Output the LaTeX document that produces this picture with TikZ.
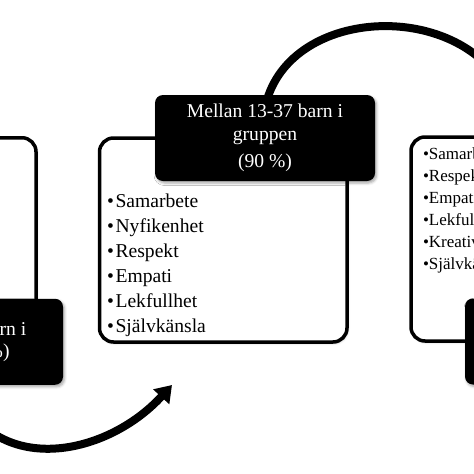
\documentclass[tikz,border=0pt]{standalone}
\usepackage{fontspec}
\setmainfont{Liberation Serif}
\usetikzlibrary{arrows.meta,shadows.blur}
\pgfdeclarelayer{bg}
\pgfsetlayers{bg,main}
\begin{document}
\begin{tikzpicture}[x=1pt,y=-1pt,
  whitebox/.style={draw=black, line width=3.5pt, fill=white, rounded corners=14pt,
    minimum width=247.5pt, minimum height=204pt, inner sep=0pt,
    blur shadow={shadow xshift=1pt, shadow yshift=-1.5pt, shadow blur radius=2pt, shadow opacity=25}},
  blackbox/.style={fill=black, text=white, rounded corners=8pt,
    minimum width=220pt, minimum height=86pt, inner sep=0pt, align=center,
    font=\fontsize{19.6}{22.5}\selectfont,
    blur shadow={shadow xshift=1.5pt, shadow yshift=-2pt, shadow blur radius=2.5pt, shadow opacity=35}},
  listitem/.style={anchor=base west, inner sep=0pt, font=\fontsize{19.6}{24}\selectfont},
  smallitem/.style={anchor=base west, inner sep=0pt, font=\fontsize{17}{20}\selectfont},
  flow/.style={line width=8pt, draw=black},
]
\useasboundingbox (0,0) rectangle (474,474);
\clip (0,0) rectangle (474,474);
% white boxes
\node[whitebox] (lw) at (-87.75,239.75) {};
\node[whitebox] (mw) at (223.25,240) {};
\node[whitebox] (rw) at (534.75,239) {};
% black boxes
\node[blackbox] (lb) at (-47,341.75) {\phantom{Mellan 1-12 ba}rn i\\\phantom{gruppen (5 }\%)};
\node[blackbox] (mb) at (265,138) {Mellan 13-37 barn i\\gruppen\\[5pt](90 \%)};
\node[blackbox] (rb) at (575,341.5) {};
% lists
\foreach \w [count=\i] in {Samarbete,Nyfikenhet,Respekt,Empati,Lekfullhet,Självkänsla}
  \node[listitem] (m\i) at (107,{182+25*\i}) {\textbullet\hspace{1.5pt}\w};
\foreach \w [count=\i] in {Samarbete,Respekt,Empati,Lekfullhet,Kreativitet,Självkänsla}
  \node[smallitem] (r\i) at (422.8,{137+22*\i}) {\textbullet\w};
% connectors
\begin{pgfonlayer}{bg}
\coordinate (tend) at (510,100);
\coordinate (atip) at (172,385);
\draw[flow] ([xshift=2pt,yshift=-5pt]mb.north) .. controls (296,3) and (470,0) .. (tend);
\draw[flow, -{Triangle[length=16pt,width=21pt]}] ([yshift=5pt]lb.south) .. controls (-10,480) and (105,458) .. (atip);
\end{pgfonlayer}
\end{tikzpicture}
\end{document}
